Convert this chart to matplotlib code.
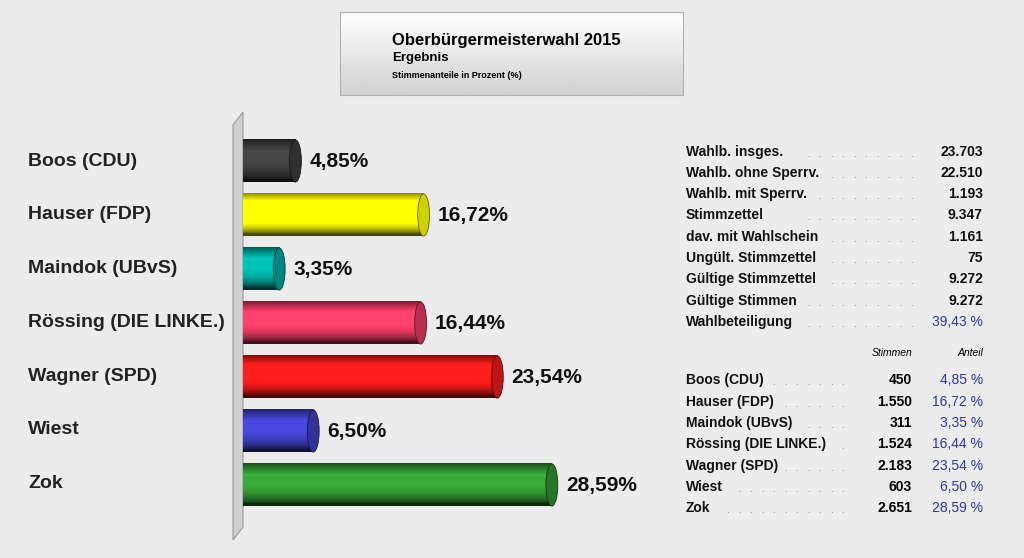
import numpy as np
import matplotlib
matplotlib.use("Agg")
import matplotlib.pyplot as plt
from matplotlib.patches import Polygon, Ellipse, Rectangle
import matplotlib.colors as mc

candidates = ["Boos (CDU)", "Hauser (FDP)", "Maindok (UBvS)", "Rössing (DIE LINKE.)",
              "Wagner (SPD)", "Wiest", "Zok"]
shares = [4.85, 16.72, 3.35, 16.44, 23.54, 6.50, 28.59]
votes = ["450", "1.550", "311", "1.524", "2.183", "603", "2.651"]
colors = ["#2a2a2a", "#f5f500", "#009e96", "#d8365a", "#e01818", "#3a3ab4", "#2e8a2e"]
stat_labels = ["Wahlb. insges.", "Wahlb. ohne Sperrv.", "Wahlb. mit Sperrv.", "Stimmzettel",
               "dav. mit Wahlschein", "Ungült. Stimmzettel", "Gültige Stimmzettel",
               "Gültige Stimmen", "Wahlbeteiligung"]
stat_values = ["23.703", "22.510", "1.193", "9.347", "1.161", "75", "9.272", "9.272", "39,43 %"]

plt.rcParams["font.family"] = "Liberation Sans"

W, H = 1024, 558
BG = "#ececec"
fig = plt.figure(figsize=(W/100, H/100), dpi=100, facecolor=BG)

def fx(x): return x / W
def fy(y): return 1 - y / H

ov = fig.add_axes([0, 0, 1, 1], zorder=0)
ov.set_xlim(0, W); ov.set_ylim(H, 0); ov.axis("off")
ov.add_patch(Rectangle((0, 0), W, H, color=BG))
ov.add_patch(Polygon([[233, 125], [243, 112], [243, 527], [233, 540]], closed=True,
                     facecolor="#d0d0d0", edgecolor="#9a9a9a", lw=0.8))
grad = np.linspace(1.0, 0.82, 100)[:, None] * np.ones((1, 10))
ov.imshow(grad, extent=[340, 683, 95, 12], cmap="gray", vmin=0, vmax=1, aspect="auto", zorder=1)
ov.add_patch(Rectangle((340, 12), 343, 83, fill=False, edgecolor="#b0b0b0", lw=0.8, zorder=2))
ov.text(392, 40, "Oberbürgermeisterwahl 2015", fontsize=12, fontweight="bold", va="center", zorder=3)
ov.text(392, 58, "Ergebnis", fontsize=9.5, fontweight="bold", va="center", zorder=3)
ov.text(392, 75, "Stimmenanteile in Prozent (%)", fontsize=6.5, fontweight="bold", va="center", zorder=3)

ax = fig.add_axes([fx(243), fy(512), (660-243)/W, (512-134)/H], zorder=2)
ax.axis("off")
ax.patch.set_alpha(0)
bh = 0.78
prof = np.linspace(0, 1, 80)
shade = 0.30 + 0.95 * np.sin(np.clip(prof * 1.0 + 0.05, 0, 1) * np.pi) ** 0.7
shade[10:25] += np.linspace(0, 0.15, 15)
for i, (v, c) in enumerate(zip(shares, colors)):
    rgb = np.array(mc.to_rgb(c))
    if c == "#2a2a2a":
        rgb = np.array([0.22, 0.22, 0.22])
    img = np.clip(rgb[None, :] * shade[:, None], 0, 1)
    img = img[:, None, :].repeat(4, axis=1)
    ax.imshow(img, extent=[0, v, i + bh/2, i - bh/2], aspect="auto", zorder=3, interpolation="bilinear")
    ax.add_patch(Ellipse((v, i), 1.1, bh, facecolor=tuple(np.clip(rgb*0.85, 0, 1)),
                         edgecolor=tuple(rgb*0.4), lw=0.6, zorder=4))
    ax.text(v + 1.3, i, f"{v:.2f}%".replace(".", ","), fontsize=15, va="center",
            ha="left", zorder=5, fontweight="bold", color="#111111")
    ov.text(28, 161 + 53.8 * i, candidates[i], fontsize=14, va="center", ha="left",
            fontweight="bold", color="#222222")
ax.set_xlim(0, 38.6)
ax.set_ylim(6.5, -0.5)

fig.canvas.draw()
r = fig.canvas.get_renderer()
inv = ov.transData.inverted()

def label_with_dots(lab, y, xstart, x1):
    t = ov.text(686, y, lab, fontsize=10, fontweight="bold", va="center", color="#111111")
    bb = t.get_window_extent(r)
    xe = inv.transform((bb.x1, bb.y0))[0]
    x = xstart
    while x < xe + 6:
        x += 11.5
    while x < x1:
        ov.text(x, y + 2, ".", fontsize=7, color="#777777", ha="center", va="center")
        x += 11.5

stat_y = [152, 173, 194, 215, 237, 258, 279, 301, 322]
for lab, val, y in zip(stat_labels, stat_values, stat_y):
    label_with_dots(lab, y, 808.0, 915)
    blue = "%" in val
    ov.text(983, y, val, fontsize=10, fontweight="bold" if not blue else "normal",
            va="center", ha="right", color="#3333aa" if blue else "#111111")
ov.text(912, 353, "Stimmen", fontsize=7.5, style="italic", ha="right", va="center")
ov.text(983, 353, "Anteil", fontsize=7.5, style="italic", ha="right", va="center")
cand_y = [380, 402, 423, 444, 466, 487, 508]
for lab, vt, sh, y in zip(candidates, votes, shares, cand_y):
    label_with_dots(lab, y, 693.0, 845)
    ov.text(912, y, vt, fontsize=10, fontweight="bold", va="center", ha="right")
    ov.text(983, y, f"{sh:.2f} %".replace(".", ","), fontsize=10, va="center", ha="right",
            color="#3333aa")

fig.savefig("out.png", dpi=100, facecolor=BG)
